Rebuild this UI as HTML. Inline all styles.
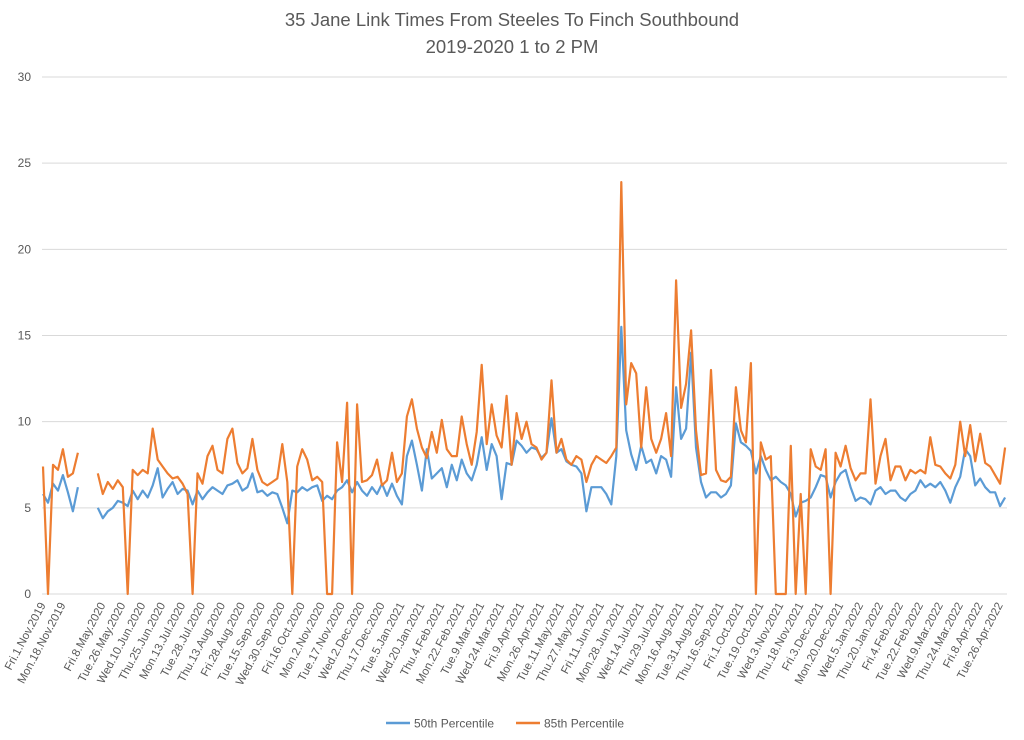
<!DOCTYPE html>
<html><head><meta charset="utf-8"><style>
html,body{margin:0;padding:0;background:#fff;}
svg{display:block;font-family:"Liberation Sans",sans-serif;}
</style></head><body>
<svg id="chart" width="1024" height="740" viewBox="0 0 1024 740" xmlns="http://www.w3.org/2000/svg">
<text x="512" y="26" text-anchor="middle" font-size="18.5" fill="#595959">35 Jane Link Times From Steeles To Finch Southbound</text>
<text x="512" y="53" text-anchor="middle" font-size="18.5" fill="#595959">2019-2020 1 to 2 PM</text>
<g id="grid"></g>
<g id="yticks"></g>
<g id="xticks"></g>
<g id="series"></g>
<g>
<line x1="386" y1="723" x2="410" y2="723" stroke="#5B9BD5" stroke-width="2.5"/>
<text x="414" y="727.5" font-size="12" fill="#595959">50th Percentile</text>
<line x1="516" y1="723" x2="540" y2="723" stroke="#ED7D31" stroke-width="2.5"/>
<text x="544" y="727.5" font-size="12" fill="#595959">85th Percentile</text>
</g>
</svg>
<script>
const yTicks = [0,5,10,15,20,25,30];
const xLabels = ["Fri.1.Nov.2019","Mon.18.Nov.2019","","Fri.8.May.2020","Tue.26.May.2020","Wed.10.Jun.2020","Thu.25.Jun.2020","Mon.13.Jul.2020","Tue.28.Jul.2020","Thu.13.Aug.2020","Fri.28.Aug.2020","Tue.15.Sep.2020","Wed.30.Sep.2020","Fri.16.Oct.2020","Mon.2.Nov.2020","Tue.17.Nov.2020","Wed.2.Dec.2020","Thu.17.Dec.2020","Tue.5.Jan.2021","Wed.20.Jan.2021","Thu.4.Feb.2021","Mon.22.Feb.2021","Tue.9.Mar.2021","Wed.24.Mar.2021","Fri.9.Apr.2021","Mon.26.Apr.2021","Tue.11.May.2021","Thu.27.May.2021","Fri.11.Jun.2021","Mon.28.Jun.2021","Wed.14.Jul.2021","Thu.29.Jul.2021","Mon.16.Aug.2021","Tue.31.Aug.2021","Thu.16.Sep.2021","Fri.1.Oct.2021","Tue.19.Oct.2021","Wed.3.Nov.2021","Thu.18.Nov.2021","Fri.3.Dec.2021","Mon.20.Dec.2021","Wed.5.Jan.2022","Thu.20.Jan.2022","Fri.4.Feb.2022","Tue.22.Feb.2022","Wed.9.Mar.2022","Thu.24.Mar.2022","Fri.8.Apr.2022","Tue.26.Apr.2022"];
const labelEvery = 4;
const p50 = [5.8,5.3,6.4,6.0,6.9,5.9,4.8,6.2,
null,null,null,
5.0,4.4,4.8,5.0,5.4,5.3,5.1,6.0,5.5,6.0,5.6,6.3,7.3,5.6,6.1,6.5,5.8,6.1,6.0,5.2,6.0,
5.5,5.9,6.2,6.0,5.8,6.3,6.4,6.6,6.0,6.2,7.0,5.9,6.0,5.7,5.9,5.8,5.0,4.1,6.0,5.9,6.2,6.0,6.2,6.3,5.4,5.7,5.5,6.0,6.2,6.6,5.9,6.5,6.0,
5.7,6.2,5.8,6.4,5.7,6.4,5.7,5.2,8.0,8.9,7.5,6.0,8.4,6.7,7.0,7.3,6.2,7.5,6.6,7.8,7.0,6.6,7.5,9.1,7.2,8.7,8.0,5.5,7.6,7.5,8.9,8.6,
8.2,8.5,8.4,7.9,8.2,10.2,8.2,8.4,7.7,7.5,7.4,7.0,4.8,6.2,6.2,6.2,5.8,5.2,8.0,15.5,9.5,8.1,7.2,8.6,7.6,7.8,7.0,8.0,7.8,6.8,12.0,9.0,
9.6,14.0,8.5,6.5,5.6,5.9,5.9,5.6,5.8,6.3,9.9,8.8,8.6,8.3,7.0,8.0,7.2,6.6,6.8,6.5,6.3,5.8,4.5,5.3,5.4,5.6,6.2,6.9,6.8,5.6,6.5,7.0,7.2,
6.2,5.4,5.6,5.5,5.2,6.0,6.2,5.8,6.0,6.0,5.6,5.4,5.8,6.0,6.6,6.2,6.4,6.2,6.5,6.0,5.3,6.2,6.8,8.4,8.0,6.3,6.7,6.2,5.9,5.9,5.1,5.6];
const p85 = [7.4,0,7.5,7.2,8.4,6.8,7.0,8.2,
null,null,null,
7.0,5.8,6.5,6.1,6.6,6.2,0,7.2,6.9,7.2,7.0,9.6,7.8,7.4,7.0,6.7,6.8,6.4,5.8,0,7.0,
6.4,8.0,8.6,7.2,7.0,9.0,9.6,7.6,7.0,7.3,9.0,7.2,6.5,6.3,6.5,6.7,8.7,6.5,0,7.4,8.4,7.8,6.6,6.8,6.5,0,0,8.8,6.5,11.1,0,11.0,6.5,
6.6,6.9,7.8,6.3,6.6,8.2,6.5,7.0,10.3,11.3,9.6,8.5,7.9,9.4,8.2,10.1,8.4,8.0,8.0,10.3,8.7,7.5,9.4,13.3,8.7,11.0,9.2,8.5,11.5,7.5,10.5,9.0,
10.0,8.7,8.5,7.8,8.2,12.4,8.2,9.0,7.8,7.5,8.0,7.8,6.5,7.5,8.0,7.8,7.6,8.0,8.5,23.9,11.0,13.4,12.8,8.5,12.0,9.0,8.2,9.0,10.5,8.0,18.2,10.8,
12.2,15.3,9.5,6.9,7.0,13.0,7.2,6.6,6.5,6.8,12.0,9.5,8.8,13.4,0,8.8,7.8,8.0,0,0,0,8.6,0,5.8,0,8.4,7.4,7.2,8.4,0,8.2,7.4,8.6,
7.3,6.6,7.0,7.0,11.3,6.4,8.0,9.0,6.6,7.4,7.4,6.6,7.2,7.0,7.2,7.0,9.1,7.5,7.4,7.0,6.7,7.5,10.0,8.0,9.8,7.7,9.3,7.6,7.4,6.9,6.4,8.5];

const NS = "http://www.w3.org/2000/svg";
const plotL = 42, plotR = 1007, yZero = 594, yTop = 77, yMax = 30;
const x0 = 43, step = 4.985;
function xPos(i){ return x0 + i*step; }
function yPos(v){ return yZero - (v/yMax)*(yZero - yTop); }

const grid = document.getElementById('grid');
const yt = document.getElementById('yticks');
yTicks.forEach(t=>{
  const l = document.createElementNS(NS,'line');
  l.setAttribute('x1',plotL); l.setAttribute('x2',plotR);
  l.setAttribute('y1',yPos(t)); l.setAttribute('y2',yPos(t));
  l.setAttribute('stroke','#d9d9d9'); l.setAttribute('stroke-width','1');
  
  
  grid.appendChild(l);
  const tx = document.createElementNS(NS,'text');
  tx.setAttribute('x',31); tx.setAttribute('y',yPos(t)+4);
  tx.setAttribute('text-anchor','end'); tx.setAttribute('font-size','12'); tx.setAttribute('fill','#595959');
  tx.textContent = t;
  
  
  yt.appendChild(tx);
});

const xt = document.getElementById('xticks');
xLabels.forEach((s,k)=>{
  if(!s) return;
  const x = xPos(k*labelEvery)+3;
  const tx = document.createElementNS(NS,'text');
  tx.setAttribute('transform','translate('+x+',605) rotate(-62)');
  tx.setAttribute('text-anchor','end'); tx.setAttribute('font-size','11.5'); tx.setAttribute('fill','#595959');
  tx.textContent = s;
  
  
  xt.appendChild(tx);
});

function drawSeries(arr,color,name){
  let d = '', pen = false;
  arr.forEach((v,i)=>{
    if(v===null){ pen=false; return; }
    d += (pen?'L':'M') + xPos(i).toFixed(1) + ' ' + yPos(v).toFixed(1) + ' ';
    pen = true;
  });
  const p = document.createElementNS(NS,'path');
  p.setAttribute('d',d); p.setAttribute('fill','none');
  p.setAttribute('stroke',color); p.setAttribute('stroke-width','2.2');
  p.setAttribute('stroke-linejoin','round');
  
  
  document.getElementById('series').appendChild(p);
}
drawSeries(p50,'#5B9BD5','line-50th-percentile');
drawSeries(p85,'#ED7D31','line-85th-percentile');
</script>
</body></html>
